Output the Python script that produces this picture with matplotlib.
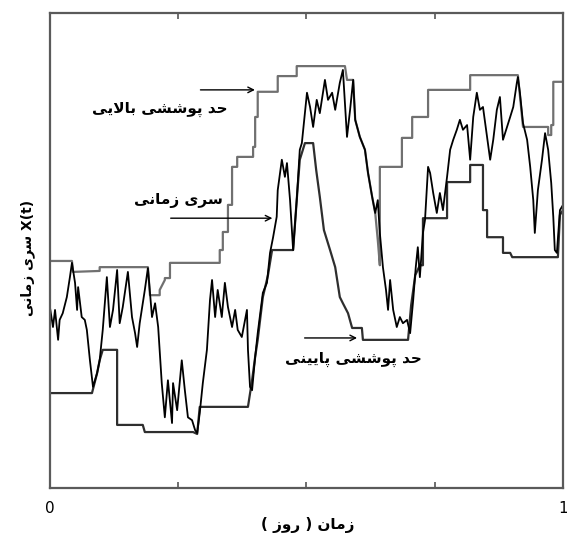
import numpy as np
import matplotlib
matplotlib.use("Agg")
import matplotlib.pyplot as plt

# time series X(t), time in days (0..1), value in arbitrary units
serie_t = [0.000, 0.006, 0.010, 0.016, 0.019, 0.025, 0.033, 0.039, 0.043, 0.049, 0.053, 0.055,
           0.062, 0.068, 0.072, 0.078, 0.084, 0.092, 0.097, 0.103, 0.111, 0.117, 0.123, 0.131,
           0.136, 0.142, 0.152, 0.160, 0.166, 0.170, 0.175, 0.185, 0.191, 0.199, 0.205, 0.211,
           0.218, 0.224, 0.230, 0.238, 0.240, 0.248, 0.257, 0.263, 0.269, 0.277, 0.283, 0.287,
           0.292, 0.298, 0.306, 0.312, 0.316, 0.322, 0.327, 0.335, 0.341, 0.347, 0.355, 0.361,
           0.366, 0.374, 0.384, 0.386, 0.390, 0.394, 0.400, 0.405, 0.415, 0.423, 0.429, 0.435,
           0.442, 0.444, 0.452, 0.458, 0.462, 0.468, 0.474, 0.481, 0.487, 0.491, 0.501, 0.507,
           0.513, 0.520, 0.526, 0.536, 0.542, 0.550, 0.556, 0.565, 0.571, 0.579, 0.585, 0.591,
           0.595, 0.604, 0.614, 0.620, 0.628, 0.634, 0.639, 0.643, 0.649, 0.655, 0.659, 0.663,
           0.669, 0.676, 0.682, 0.688, 0.696, 0.702, 0.708, 0.713, 0.717, 0.721, 0.727, 0.731,
           0.737, 0.741, 0.747, 0.754, 0.760, 0.766, 0.774, 0.780, 0.786, 0.793, 0.799, 0.805,
           0.813, 0.819, 0.825, 0.832, 0.838, 0.844, 0.852, 0.858, 0.864, 0.871, 0.877, 0.883,
           0.891, 0.897, 0.903, 0.910, 0.912, 0.916, 0.922, 0.930, 0.936, 0.942, 0.945, 0.951,
           0.959, 0.965, 0.971, 0.977, 0.981, 0.984, 0.988, 0.994, 1.000]
serie_x = [38.1, 33.9, 37.5, 31.2, 35.4, 36.8, 40.2, 44.4, 47.4, 43.2, 37.5, 42.3,
           36.0, 35.4, 33.3, 26.9, 21.3, 24.2, 26.9, 33.3, 44.4, 33.9, 37.5, 45.9,
           34.7, 38.1, 45.5, 36.0, 32.6, 29.7, 34.7, 41.7, 46.3, 36.0, 38.9, 33.9,
           22.1, 14.9, 22.7, 13.7, 22.1, 16.4, 26.9, 20.6, 14.9, 14.3, 12.2, 11.6,
           15.8, 22.1, 29.1, 39.6, 43.8, 36.0, 41.7, 36.0, 43.2, 38.1, 33.9, 37.5,
           33.3, 31.8, 37.5, 29.1, 21.3, 20.6, 27.6, 32.6, 41.1, 43.2, 49.5, 52.8,
           57.1, 62.7, 69.1, 65.5, 68.4, 60.6, 50.1, 60.6, 71.2, 72.6, 83.2, 80.2,
           76.0, 81.7, 78.9, 85.9, 81.7, 83.2, 79.6, 85.3, 88.0, 73.9, 79.6, 85.9,
           77.5, 73.9, 71.2, 66.3, 61.3, 57.9, 60.6, 53.7, 46.5, 41.7, 37.5, 43.8,
           37.5, 33.9, 36.0, 34.7, 35.4, 32.6, 39.6, 46.5, 50.7, 44.4, 53.7, 56.4,
           67.6, 66.3, 62.1, 57.9, 62.1, 58.5, 65.5, 71.2, 73.3, 75.4, 77.5, 75.4,
           76.4, 69.1, 78.1, 83.2, 79.6, 80.2, 73.9, 69.1, 73.3, 79.6, 82.3, 73.3,
           76.0, 78.1, 80.2, 85.3, 86.5, 83.2, 76.8, 73.3, 67.6, 60.6, 53.7, 62.7,
           69.1, 74.7, 71.2, 64.2, 57.1, 50.1, 49.5, 58.5, 59.6]

# upper envelope (حد پوششی بالایی)
bala_t = [0.000, 0.043, 0.045, 0.097, 0.097, 0.191, 0.195, 0.214, 0.214, 0.224, 0.224, 0.234,
          0.234, 0.331, 0.331, 0.337, 0.337, 0.347, 0.347, 0.355, 0.355, 0.365, 0.365, 0.396,
          0.396, 0.400, 0.400, 0.405, 0.405, 0.444, 0.444, 0.481, 0.481, 0.575, 0.579, 0.591,
          0.595, 0.604, 0.614, 0.620, 0.628, 0.634, 0.639, 0.643, 0.643, 0.686, 0.686, 0.706,
          0.706, 0.737, 0.737, 0.819, 0.819, 0.912, 0.922, 0.971, 0.971, 0.977, 0.977, 0.981,
          0.981, 1.000]
bala_x = [47.8, 47.8, 45.5, 45.7, 46.5, 46.5, 40.6, 40.6, 41.7, 43.8, 44.2, 44.2,
          47.4, 47.4, 50.1, 50.1, 53.9, 53.9, 59.6, 59.6, 67.6, 67.6, 69.7, 69.7,
          71.8, 71.8, 78.1, 78.1, 83.4, 83.4, 86.7, 86.7, 88.8, 88.8, 85.9, 85.9,
          77.5, 73.9, 71.2, 66.3, 61.3, 57.9, 52.2, 46.9, 67.6, 67.6, 73.7, 73.7,
          78.1, 78.1, 83.8, 83.8, 86.9, 86.9, 76.0, 76.0, 74.3, 74.3, 76.4, 76.4,
          85.5, 85.5]

# lower envelope (حد پوششی پایینی)
paein_t = [0.000, 0.082, 0.092, 0.097, 0.103, 0.131, 0.131, 0.181, 0.185, 0.279, 0.287, 0.292,
           0.386, 0.394, 0.400, 0.405, 0.415, 0.425, 0.433, 0.474, 0.481, 0.487, 0.497, 0.513,
           0.519, 0.526, 0.534, 0.546, 0.556, 0.565, 0.571, 0.581, 0.589, 0.608, 0.610, 0.698,
           0.704, 0.712, 0.721, 0.727, 0.727, 0.774, 0.774, 0.819, 0.819, 0.844, 0.844, 0.852,
           0.852, 0.883, 0.883, 0.897, 0.901, 0.990, 0.994, 1.000]
paein_x = [20.0, 20.0, 24.2, 26.9, 29.1, 29.1, 13.3, 13.3, 11.8, 11.8, 11.4, 17.1,
           17.1, 22.7, 27.6, 31.2, 40.2, 44.8, 50.1, 50.1, 60.6, 69.1, 72.6, 72.6,
           66.9, 61.3, 54.3, 50.1, 46.5, 40.2, 38.9, 36.8, 33.7, 33.7, 31.2, 31.2,
           38.5, 44.8, 46.9, 46.9, 56.8, 56.8, 64.4, 64.4, 68.0, 68.0, 58.5, 58.5,
           52.8, 52.8, 49.5, 49.5, 48.6, 48.6, 57.5, 58.5]

# Persian labels, written with Arabic presentation forms in visual (left-to-right) order
# حد پوششی بالایی / سری زمانی / حد پوششی پایینی / زمان ( روز ) / سری زمانی X(t)
lbl_bala = "\uFBFD\uFBFE\uFEFB\uFE8E\uFE91 \uFBFD\uFEB8\uFEB7\uFEEE\uFB58 \uFEAA\uFEA3"
lbl_serie = "\uFBFD\uFEE7\uFE8E\uFEE3\uFEAF \uFBFC\uFEAE\uFEB3"
lbl_paein = "\uFBFD\uFEE8\uFBFF\uFBFE\uFE8E\uFB58 \uFBFD\uFEB8\uFEB7\uFEEE\uFB58 \uFEAA\uFEA3"
lbl_x = "( \uFEAF\uFEED\uFEAD ) \uFEE5\uFE8E\uFEE3\uFEAF"
lbl_y = "\uFBFD\uFEE7\uFE8E\uFEE3\uFEAF \uFBFC\uFEAE\uFEB3 X(t)"

fig = plt.figure(figsize=(5.67, 5.37), dpi=100)
ax = fig.add_axes([0.088, 0.091, 0.905, 0.885])

ax.plot(bala_t, bala_x, color="#707070", lw=1.6)
ax.plot(paein_t, paein_x, color="#2e2e2e", lw=1.6)
ax.plot(serie_t, serie_x, color="black", lw=1.3)

ax.set_xlim(0, 1)
ax.set_ylim(0, 100)
ax.set_xticks([0, 0.25, 0.5, 0.75, 1])
ax.set_xticklabels(["0", "", "", "", "1"], fontsize=11)
ax.set_yticks([])
ax.tick_params(axis="x", direction="in", top=True, length=4, width=1.2,
               color="#555555", pad=9)
for s in ax.spines.values():
    s.set_color("#5a5a5a")
    s.set_linewidth(1.6)

arrow = dict(arrowstyle="->", color="black", lw=1.0)
ax.annotate("", xy=(0.405, 83.8), xytext=(0.288, 83.8), arrowprops=arrow)
ax.annotate("", xy=(0.439, 56.8), xytext=(0.230, 56.8), arrowprops=arrow)
ax.annotate("", xy=(0.604, 31.6), xytext=(0.491, 31.6), arrowprops=arrow)

ax.text(0.214, 79.6, lbl_bala, ha="center", va="center", fontsize=11, fontweight="bold")
ax.text(0.250, 60.6, lbl_serie, ha="center", va="center", fontsize=11, fontweight="bold")
ax.text(0.591, 27.0, lbl_paein, ha="center", va="center", fontsize=11, fontweight="bold")

fig.text(0.543, 0.022, lbl_x, ha="center", va="center", fontsize=11, fontweight="bold")
fig.text(0.048, 0.52, lbl_y, ha="center", va="center", rotation=90, fontsize=10, fontweight="bold")

fig.savefig("out.png", dpi=100)
